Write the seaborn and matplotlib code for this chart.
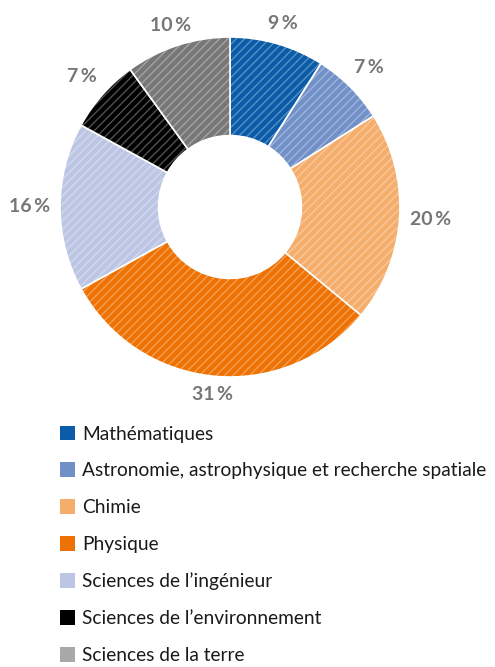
import numpy as np
import matplotlib.pyplot as plt
from matplotlib.patches import Patch
import seaborn as sns

# Données
disciplines = ['Mathématiques',
               'Astronomie, astrophysique et recherche spatiale',
               'Chimie',
               'Physique',
               'Sciences de l\u2019ingénieur',
               'Sciences de l\u2019environnement',
               'Sciences de la terre']
parts = [9, 7, 20, 31, 16, 7, 10]
couleurs = ['#0a5ca8', '#7190c8', '#f5ad6c', '#ee7203', '#bcc6e4', '#000000', '#777777']
couleurs_legende = ['#0a5ca8', '#7190c8', '#f5ad6c', '#ee7203', '#bcc6e4', '#000000', '#a8a8a8']

sns.set_theme(style='white')
plt.rcParams['font.family'] = ['Lato', 'DejaVu Sans']

W, H = 495, 667
fig = plt.figure(figsize=(W / 100, H / 100), dpi=100)

# Position du donut : centre (230, 207) px, rayon 170 px
cx, cy, r, L = 230, 207, 170, 1.2
ax = fig.add_axes([(cx - r * L) / W, (H - cy - r * L) / H, 2 * r * L / W, 2 * r * L / H])

wedges, _ = ax.pie(parts, colors=couleurs, startangle=90, counterclock=False,
                   wedgeprops=dict(width=0.58, edgecolor='white', linewidth=1.2))
# hachures claires
hatch, _ = ax.pie(parts, colors=['none'] * len(parts), startangle=90, counterclock=False,
                  wedgeprops=dict(width=0.58, edgecolor=(1, 1, 1, 0.32), linewidth=0, hatch='////'))
ax.set_xlim(-L, L)
ax.set_ylim(-L, L)

# Étiquettes de pourcentage
cum = np.cumsum([0] + parts[:-1])
for p, c in zip(parts, cum):
    ang = np.deg2rad(90 - (c + p / 2) * 3.6)
    d = 1.1 + 0.08 * abs(np.cos(ang))
    ax.text(d * np.cos(ang), d * np.sin(ang), f'{p}\u2009%', ha='center', va='center',
            fontsize=14, fontweight='bold', color='#767676')

handles = [Patch(facecolor=c, edgecolor='none') for c in couleurs_legende]
fig.legend(handles, disciplines, loc='upper left', bbox_to_anchor=(52 / W, 1 - 418 / H),
           frameon=False, fontsize=13.8, handlelength=0.8, handleheight=0.8,
           handletextpad=0.38, labelspacing=1.03, labelcolor='#1a1a1a', borderaxespad=0)

fig.savefig('out.png', dpi=100)
